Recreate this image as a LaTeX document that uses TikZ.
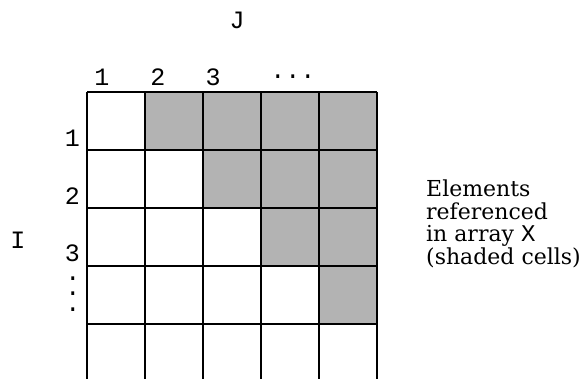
\documentclass[tikz,border=0pt]{standalone}
\usepackage{fontspec}
\setmainfont{DejaVu Serif}
\setmonofont{Liberation Mono}
\definecolor{cellgrey}{RGB}{179,179,179}
\begin{document}
\begin{tikzpicture}[x=1pt,y=-1pt,
  lbl/.style={font=\fontsize{25}{25}\selectfont\ttfamily, inner sep=0pt},
  dotlbl/.style={lbl, text height=3pt, text depth=0pt, anchor=base},
  gridline/.style={line width=1.4pt, black}]
\useasboundingbox (0,0) rectangle (587,379);
% shaded cells
\foreach \r in {0,...,3}{
  \pgfmathtruncatemacro{\cs}{\r+1}
  \foreach \c in {\cs,...,4}{
    \fill[cellgrey] (87+58*\c,92+58*\r) rectangle ++(58,58);
  }
}
% grid lines
\foreach \i in {0,...,5}{
  \draw[gridline] (87+58*\i,92) -- (87+58*\i,379);
}
\foreach \j in {0,...,4}{
  \draw[gridline] (87,92+58*\j) -- (377,92+58*\j);
}
% labels
\node[lbl] (J) at (237,20) {J};
\node[lbl] (c1) at (102,77) {1};
\node[lbl] (c2) at (158,77) {2};
\node[lbl] (c3) at (213,77) {3};
\node[lbl] (cd) at (293,77) {...};
\node[lbl] (r1) at (72.5,138) {1};
\node[lbl] (r2) at (72.5,196) {2};
\node[lbl] (r3) at (72.5,253) {3};
\node[dotlbl] (rd1) at (73,281) {.};
\node[dotlbl] (rd2) at (73,296) {.};
\node[dotlbl] (rd3) at (73,312) {.};
\node[lbl] (I) at (18,240) {I};
\node[anchor=north west, inner sep=0pt, align=left,
  font=\fontsize{22}{22.5}\selectfont] (txt) at (426,180)
  {Elements\\referenced\\in array\ {\ttfamily\fontsize{24}{22.5}\selectfont X}\\(shaded cells)};
\end{tikzpicture}
\end{document}
